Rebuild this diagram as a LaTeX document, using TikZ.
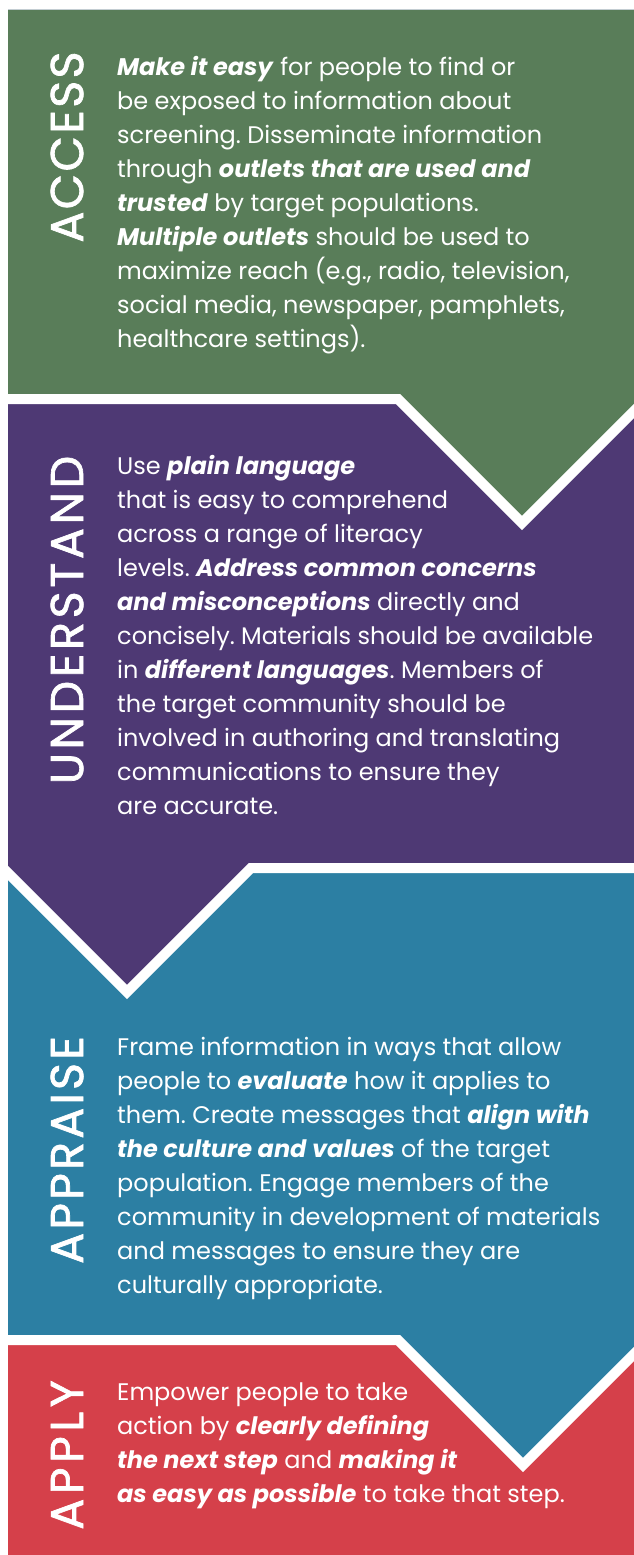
\documentclass[tikz,border=0pt]{standalone}
\usepackage{fontspec}
\setmainfont{Poppins}
\usetikzlibrary{positioning}
\definecolor{accessgreen}{RGB}{89,125,89}
\definecolor{understandpurple}{RGB}{78,57,116}
\definecolor{appraiseteal}{RGB}{44,127,163}
\definecolor{applyred}{RGB}{213,64,74}
\newcommand{\bitext}[1]{\textbf{\textit{#1}}}
\frenchspacing
\tikzset{
    every node/.style={
        text=white
    },
    title/.style={
        rotate=90,
        inner sep=0pt,
        font=\fontsize{46}{46}\selectfont\addfontfeature{LetterSpace=#1, FakeBold=1.5}
    },
    title/.default=6,
    blurb/.style={
        anchor=north west,
        align=left,
        inner sep=0pt,
        font=\fontsize{24}{34}\selectfont
    },
    divider/.style={
        draw=white,
        line width=10pt,
        miter limit=10
    }
}

\begin{document}
\begin{tikzpicture}[x=1pt, y=-1pt]
			\useasboundingbox (0,0) rectangle (634,1555);
			\begin{scope}
				\clip (8,10) rectangle (634,1555);
				% panels, each one over the next
				\fill[applyred] (8,10) rectangle (634,1555);
				\fill[appraiseteal] (8,10) -- (640,10) -- (640,1340) -- (648,1340) -- (523,1465) -- (398,1340) -- (8,1340) -- cycle;
				\fill[understandpurple] (0,10) -- (640,10) -- (640,868) -- (251,868) -- (127,992) -- (3,868) -- (0,868) -- cycle;
				\fill[accessgreen] (8,10) -- (640,10) -- (640,399) -- (646,399) -- (522,523) -- (398,399) -- (8,399) -- cycle;
				% white chevrons
				\draw[divider] (0,399) -- (398,399) -- (522,523) -- (646,399);
				\draw[divider] (3,868) -- (127,992) -- (251,868) -- (640,868);
				\draw[divider] (0,1340) -- (398,1340) -- (523,1465) -- (648,1340);
			\end{scope}

			\node (access) at (67,147) [title=5] {ACCESS};
			\node (accesstext) at (117,56) [blurb] {\bitext{Make it easy} for people to find or\\
				be exposed to information about\\
				screening. Disseminate information\\
				through \bitext{outlets that are used and}\\
				\bitext{trusted} by target populations.\\
				\bitext{Multiple outlets} should be used to\\
				maximize reach (e.g., radio, television,\\
				social media, newspaper, pamphlets,\\
				healthcare settings).};

			\node (understand) at (67,620) [title=8] {UNDERSTAND};
			\node (understandtext) at (117,455) [blurb] {Use \bitext{plain language}\\
				that is easy to comprehend\\
				across a range of literacy\\
				levels. \bitext{Address common concerns}\\
				\bitext{and misconceptions} directly and\\
				concisely. Materials should be available\\
				in \bitext{different languages}. Members of\\
				the target community should be\\
				involved in authoring and translating\\
				communications to ensure they\\
				are accurate.};

			\node (appraise) at (67,1150) [title=7] {APPRAISE};
			\node (appraisetext) at (117,1037) [blurb] {Frame information in ways that allow\\
				people to \bitext{evaluate} how it applies to\\
				them. Create messages that \bitext{align with}\\
				\bitext{the culture and values} of the target\\
				population. Engage members of the\\
				community in development of materials\\
				and messages to ensure they are\\
				culturally appropriate.};

			\node (apply) at (67,1455) [title=10] {APPLY};
			\node (applytext) at (117,1383) [blurb] {Empower people to take\\
				action by \bitext{clearly defining}\\
				\bitext{the next step} and \bitext{making it}\\
				\bitext{as easy as possible} to take that step.};
		\end{tikzpicture}
\end{document}
